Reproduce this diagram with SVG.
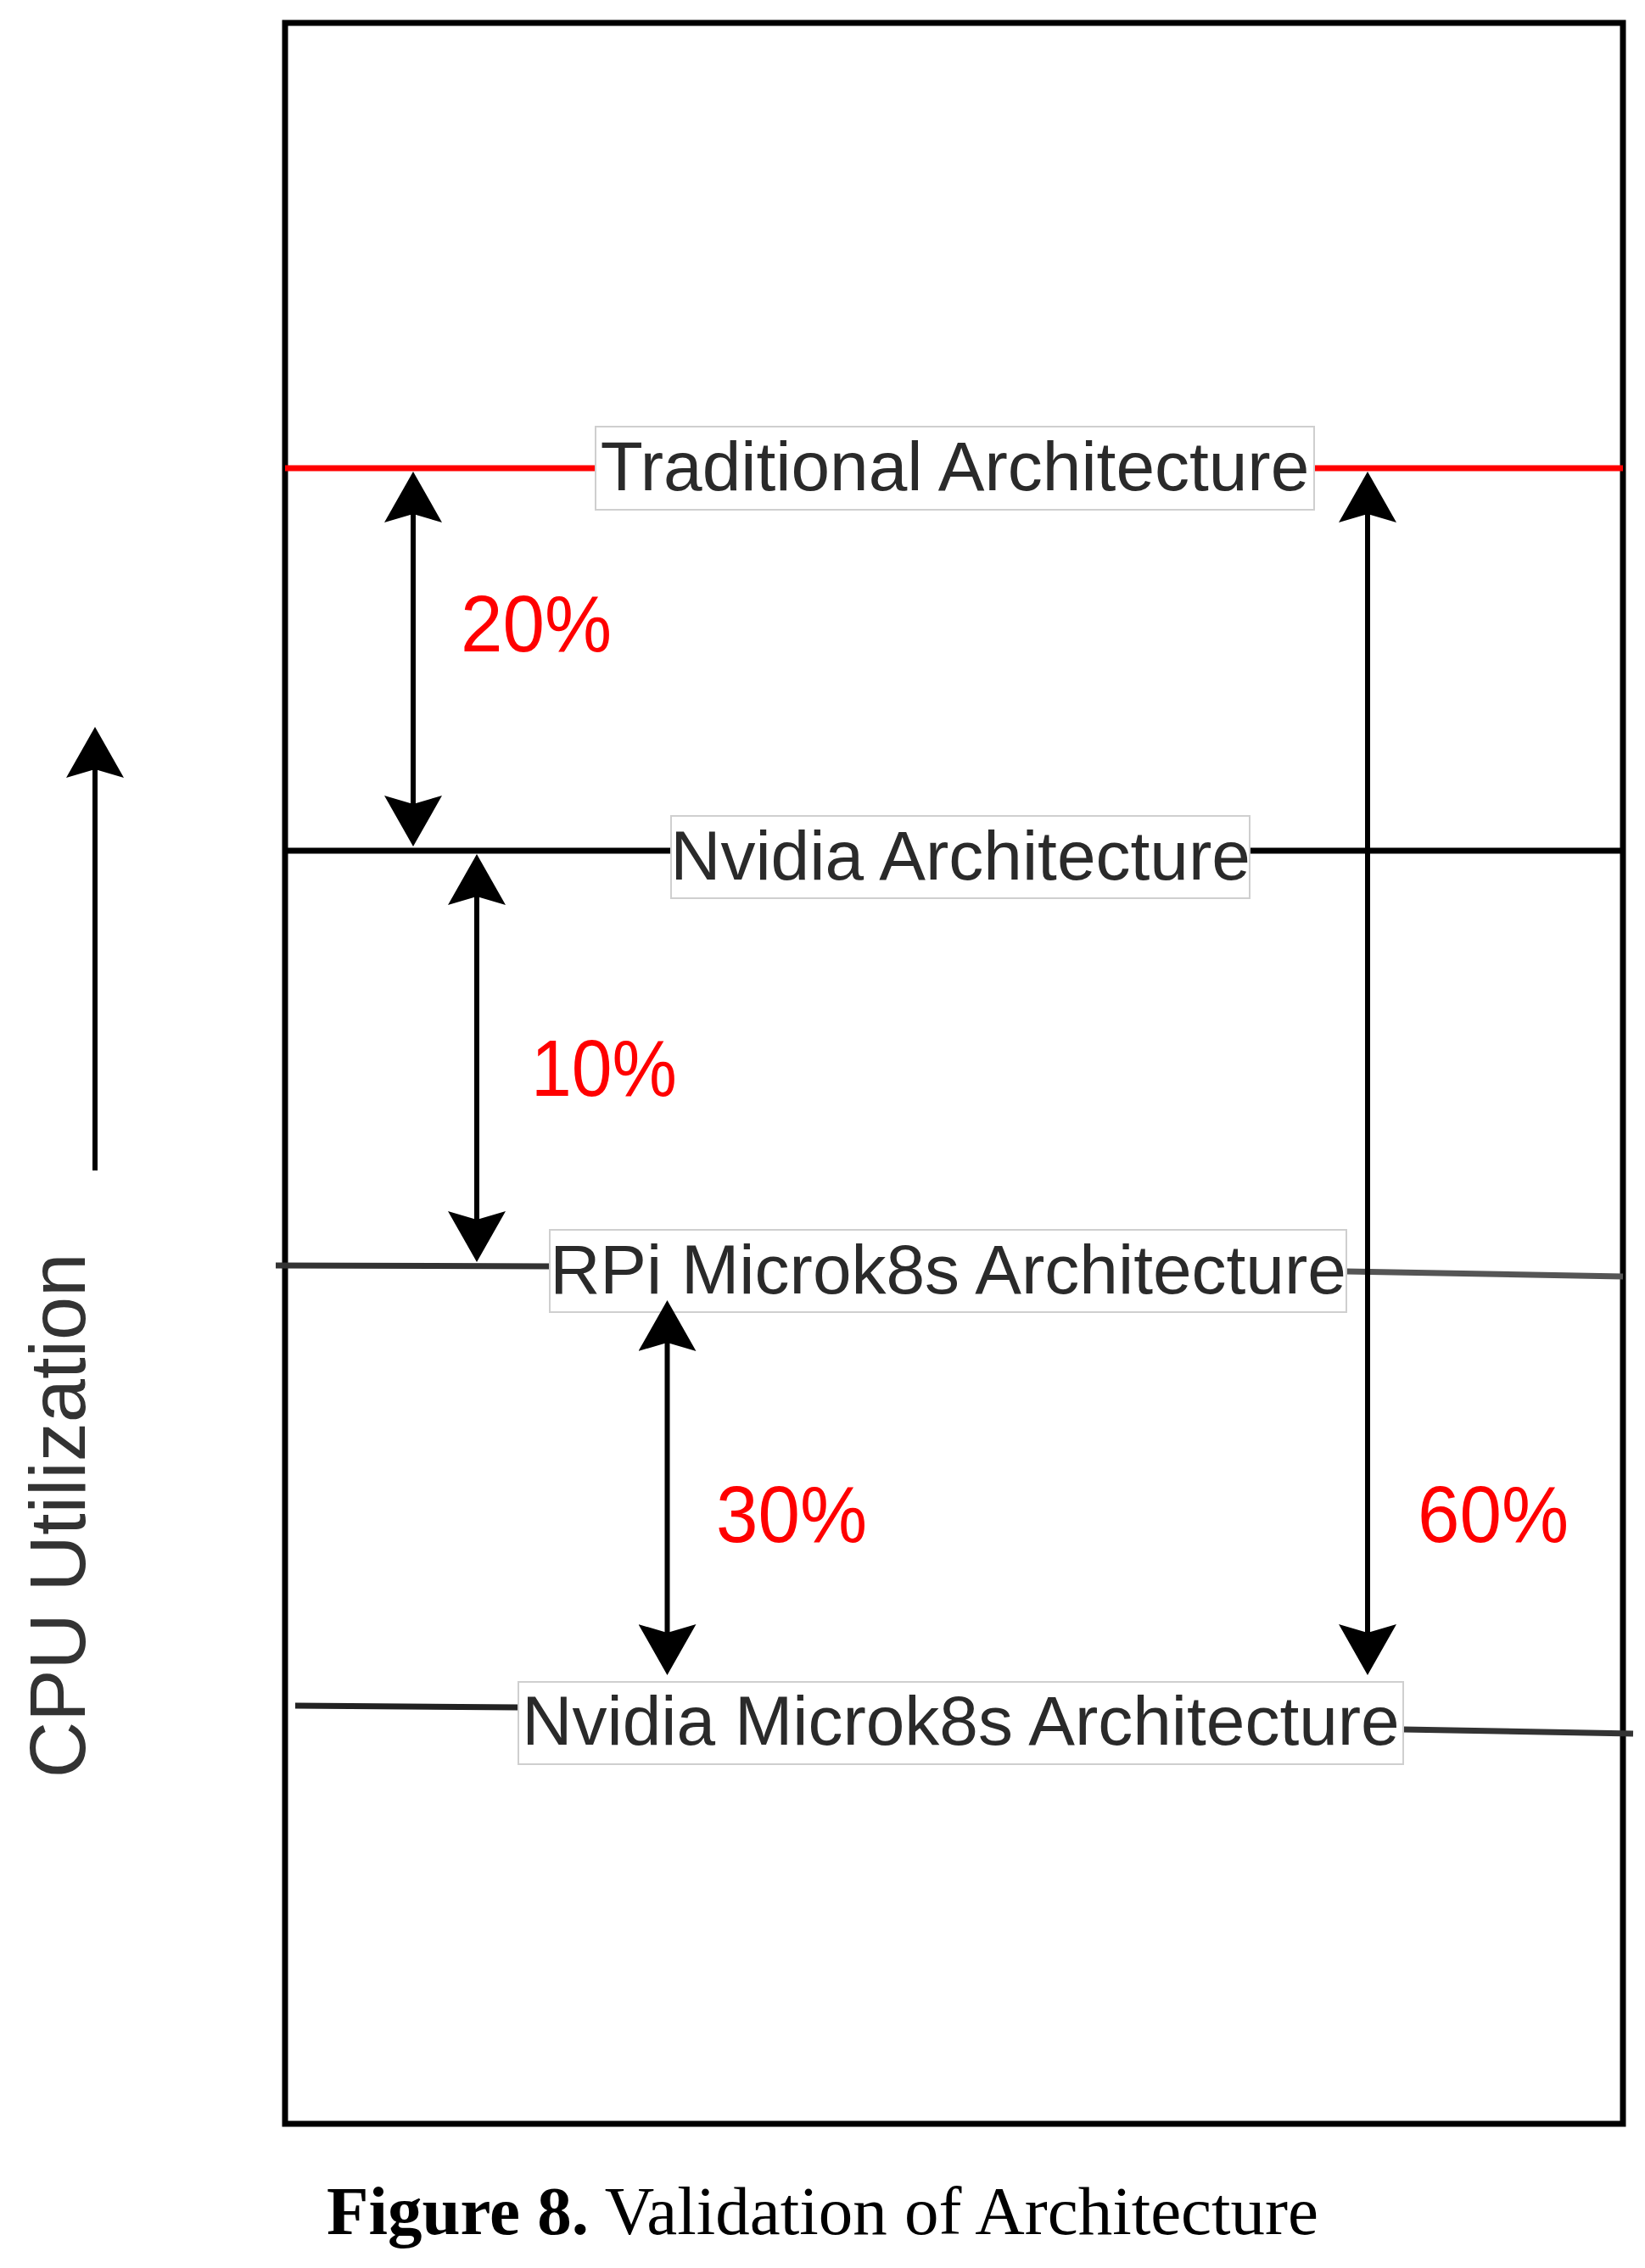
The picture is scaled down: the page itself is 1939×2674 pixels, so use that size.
<svg xmlns="http://www.w3.org/2000/svg" width="1939" height="2674" viewBox="0 0 1939 2674">
  <style>
    .frame{fill:none;stroke:#000;stroke-width:7}
    .lbl{fill:#fff;stroke:#cfcfcf;stroke-width:2}
    .lbltxt{font-family:"Liberation Sans",Arial,sans-serif;font-size:82px;fill:#2a2a2a;text-anchor:middle}
    .pct{font-family:"Liberation Sans",Arial,sans-serif;font-size:95px;fill:#ff0000}
    .arr{stroke:#000;stroke-width:6;fill:none}
    .lvl{stroke-width:7;fill:none}
    .axis{font-family:"Liberation Sans",Arial,sans-serif;font-size:92px;fill:#333;text-anchor:middle}
    .cap{font-family:"Liberation Serif","Times New Roman",serif;font-size:81px;fill:#000}
  </style>
  <defs>
    <marker id="ah" markerUnits="userSpaceOnUse" markerWidth="62" markerHeight="68" viewBox="0 0 62 68" refX="50" refY="34" orient="auto-start-reverse">
      <path d="M60,34 L0,0 L10,34 L0,68 Z" fill="#000"/>
    </marker>
  </defs>
  <rect width="1939" height="2674" fill="#fff"/>
  <g id="frame">
    <rect class="frame" x="336" y="27" width="1577" height="2477"/>
  </g>
  <g id="connectors">
    <line class="lvl" x1="336" y1="552" x2="702" y2="552" stroke="#ff0000"/>
    <line class="lvl" x1="1549" y1="552" x2="1913" y2="552" stroke="#ff0000"/>
    <line class="lvl" x1="336" y1="1003" x2="791" y2="1003" stroke="#000"/>
    <line class="lvl" x1="1473" y1="1003" x2="1913" y2="1003" stroke="#000"/>
    <line class="lvl" x1="325" y1="1492" x2="648" y2="1493" stroke="#333"/>
    <line class="lvl" x1="1587" y1="1499" x2="1913" y2="1505" stroke="#555"/>
    <line class="lvl" x1="348" y1="2011" x2="611" y2="2013" stroke="#222"/>
    <line class="lvl" x1="1654" y1="2039" x2="1925" y2="2044" stroke="#333"/>
  </g>
  <g id="node-traditional">
    <rect class="lbl" x="702" y="503" width="847" height="98"/>
    <text class="lbltxt" x="1125.5" y="578">Traditional Architecture</text>
  </g>
  <g id="node-nvidia">
    <rect class="lbl" x="791" y="962" width="682" height="97"/>
    <text class="lbltxt" x="1132" y="1037">Nvidia Architecture</text>
  </g>
  <g id="node-rpi">
    <rect class="lbl" x="648" y="1450" width="939" height="97"/>
    <text class="lbltxt" x="1117.5" y="1525">RPi Microk8s Architecture</text>
  </g>
  <g id="node-nvidia-microk8s">
    <rect class="lbl" x="611" y="1983" width="1043" height="97"/>
    <text class="lbltxt" x="1132.5" y="2057">Nvidia Microk8s Architecture</text>
  </g>
  <g id="arrows">
    <line class="arr" x1="487" y1="566" x2="487" y2="988" marker-start="url(#ah)" marker-end="url(#ah)"/>
    <line class="arr" x1="562" y1="1017" x2="562" y2="1478" marker-start="url(#ah)" marker-end="url(#ah)"/>
    <line class="arr" x1="786.5" y1="1543" x2="786.5" y2="1965" marker-start="url(#ah)" marker-end="url(#ah)"/>
    <line class="arr" x1="1612" y1="566" x2="1612" y2="1965" marker-start="url(#ah)" marker-end="url(#ah)"/>
    <line class="arr" x1="112" y1="1380" x2="112" y2="867" stroke-width="8" marker-end="url(#ah)"/>
  </g>
  <g id="percentages">
    <text class="pct" x="543" y="768" textLength="178" lengthAdjust="spacingAndGlyphs">20%</text>
    <text class="pct" x="626" y="1292" textLength="172" lengthAdjust="spacingAndGlyphs">10%</text>
    <text class="pct" x="844" y="1818" textLength="178" lengthAdjust="spacingAndGlyphs">30%</text>
    <text class="pct" x="1671" y="1818" textLength="178" lengthAdjust="spacingAndGlyphs">60%</text>
  </g>
  <g id="axis-label">
    <text class="axis" transform="translate(100,1787) rotate(-90)">CPU Utilization</text>
  </g>
  <g id="caption">
    <text class="cap" x="385" y="2634"><tspan font-weight="bold">Figure 8.</tspan> Validation of Architecture</text>
  </g>
</svg>
